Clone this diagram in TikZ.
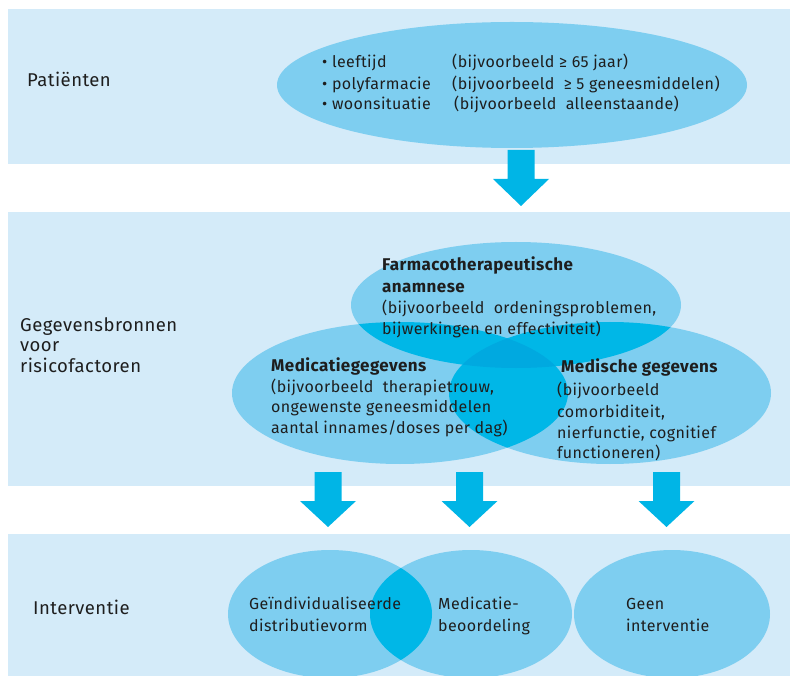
\documentclass[tikz,border=0pt]{standalone}
\usepackage{fontspec}
\setmainfont{Fira Sans}[LetterSpace=2.5]
\definecolor{panel}{HTML}{D4EBF9}
\definecolor{ell}{HTML}{7ECEF0}
\definecolor{ovl}{HTML}{00B7E7}
\definecolor{tri}{HTML}{00A9E0}
\definecolor{arrowc}{HTML}{00B5E6}
\definecolor{ink}{HTML}{1E1E1E}
\newcommand\dnarrow[4]{% cx, ytop, yhead, ytip
  \fill[arrowc] (#1-13.5,#2) -- (#1+13.5,#2) -- (#1+13.5,#3) -- (#1+28,#3)
    -- (#1,#4) -- (#1-28,#3) -- (#1-13.5,#3) -- cycle;}
\begin{document}
\begin{tikzpicture}[x=1pt,y=-1pt,
  txt/.style={anchor=base west, inner sep=0, text=ink, font=\fontsize{16}{19}\selectfont},
  bld/.style={anchor=base west, inner sep=0, text=ink, font=\fontsize{17}{20}\selectfont\bfseries},
  lbl/.style={anchor=base west, inner sep=0, text=ink, font=\fontsize{18.5}{21}\selectfont}]
\useasboundingbox (0,0) rectangle (790,676);
% panels
\fill[panel] (8,9) rectangle (790,164);
\fill[panel] (8,212) rectangle (790,486);
\fill[panel] (8,534) rectangle (790,676);
% ellipses
\coordinate (eP) at (512,85);
\coordinate (eF) at (516,305);
\coordinate (eM) at (400,393);
\coordinate (eG) at (610,393);
\coordinate (eI1) at (330,614);
\coordinate (eI2) at (471,614);
\coordinate (eI3) at (672,614);
\fill[ell] (eP) ellipse [x radius=235pt, y radius=63pt];
\fill[ell] (eF) ellipse [x radius=165pt, y radius=63pt];
\fill[ell] (eM) ellipse [x radius=168pt, y radius=71pt];
\fill[ell] (eG) ellipse [x radius=161pt, y radius=71pt];
\begin{scope}
  \clip (8,534) rectangle (790,676);
  \fill[ell] (eI1) ellipse [x radius=102pt, y radius=64pt];
  \fill[ell] (eI2) ellipse [x radius=101pt, y radius=64pt];
  \fill[ell] (eI3) ellipse [x radius=98pt, y radius=64pt];
  \begin{scope}
    \clip (eI1) ellipse [x radius=102pt, y radius=64pt];
    \fill[ovl] (eI2) ellipse [x radius=101pt, y radius=64pt];
  \end{scope}
\end{scope}
% overlaps in the Venn
\begin{scope}
  \clip (eF) ellipse [x radius=165pt, y radius=63pt];
  \fill[ovl] (eM) ellipse [x radius=168pt, y radius=71pt];
  \fill[ovl] (eG) ellipse [x radius=161pt, y radius=71pt];
\end{scope}
\begin{scope}
  \clip (eM) ellipse [x radius=168pt, y radius=71pt];
  \fill[ovl] (eG) ellipse [x radius=161pt, y radius=71pt];
\end{scope}
\begin{scope}
  \clip (eF) ellipse [x radius=165pt, y radius=63pt];
  \clip (eM) ellipse [x radius=168pt, y radius=71pt];
  \fill[tri] (eG) ellipse [x radius=161pt, y radius=71pt];
\end{scope}
% arrows
\dnarrow{521}{150}{179}{206}
\dnarrow{328}{472}{501}{527}
\dnarrow{469.5}{472}{501}{527}
\dnarrow{666.5}{472}{501}{527}
% panel 1 text
\node[lbl] (lp) at (27,87) {Patiënten};
\node[txt] (p1a) at (322,68) {\textbullet\ leeftijd};
\node[txt] (p1b) at (452,68) {(bijvoorbeeld ≥ 65 jaar)};
\node[txt] (p2a) at (322,90) {\textbullet\ polyfarmacie};
\node[txt] (p2b) at (452,90) {(bijvoorbeeld\ \ ≥ 5 geneesmiddelen)};
\node[txt] (p3a) at (322,110) {\textbullet\ woonsituatie};
\node[txt] (p3b) at (454,110) {(bijvoorbeeld\ \ alleenstaande)};
% panel 2 text
\node[lbl] (lg1) at (20,331) {Gegevensbronnen};
\node[lbl] (lg2) at (20,352) {voor};
\node[lbl] (lg3) at (20,373) {risicofactoren};
\node[bld] (f1) at (382,271) {Farmacotherapeutische};
\node[bld] (f2) at (382,293) {anamnese};
\node[txt] (f3) at (382,314) {(bijvoorbeeld\ \ ordeningsproblemen,};
\node[txt] (f4) at (382,335) {bijwerkingen en effectiviteit)};
\node[bld] (m1) at (271,371) {Medicatiegegevens};
\node[txt] (m2) at (271,392) {(bijvoorbeeld\ \ therapietrouw,};
\node[txt] (m3) at (271,412) {ongewenste geneesmiddelen};
\node[txt] (m4) at (271,433) {aantal innames/doses per dag)};
\node[bld] (g1) at (561,373) {Medische gegevens};
\node[txt] (g2) at (557,395) {(bijvoorbeeld};
\node[txt] (g3) at (557,417) {comorbiditeit,};
\node[txt] (g4) at (557,438) {nierfunctie, cognitief};
\node[txt] (g5) at (557,458) {functioneren)};
% panel 3 text
\node[lbl] (li) at (33,614) {Interventie};
\node[txt] (i1a) at (249,609) {Geïndividualiseerde};
\node[txt] (i1b) at (249,631) {distributievorm};
\node[txt] (i2a) at (438,609) {Medicatie-};
\node[txt] (i2b) at (438,631) {beoordeling};
\node[txt] (i3a) at (626,609) {Geen};
\node[txt] (i3b) at (626,631) {interventie};
\end{tikzpicture}
\end{document}
